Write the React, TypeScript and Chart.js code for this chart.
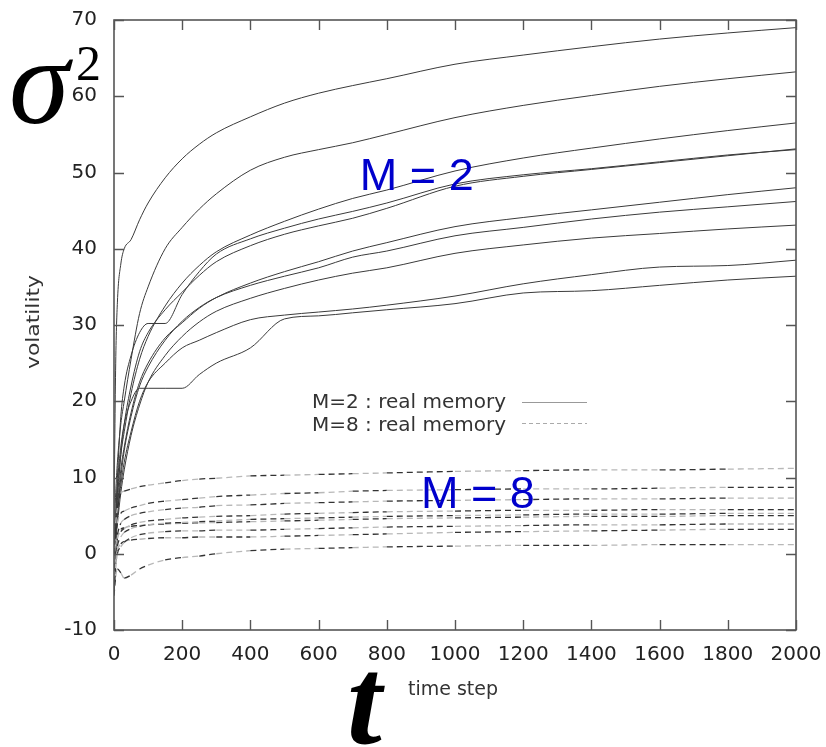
import React, { useEffect, useRef } from 'react';
import { Chart, registerables } from 'chart.js';

Chart.register(...registerables);

// ---- data -----------------------------------------------------------------
const timeSteps = [0, 5, 10, 20, 30, 50, 75, 100, 150, 200, 250, 300, 400, 500, 600, 700, 800, 1000, 1200, 1400, 1600, 1800, 2000];

// M = 2 (solid lines)
const m2A = [5, 25, 33, 38, 40, 41.2, 43.8, 46, 49.3, 51.8, 53.7, 55.2, 57.3, 59.1, 60.4, 61.4, 62.3, 64.2, 65.4, 66.5, 67.5, 68.3, 69];
const m2B = [2, 8, 12, 17, 20, 25.5, 31.5, 35, 40, 42.8, 45.2, 47.2, 50.3, 52, 53, 53.9, 55, 57.2, 58.8, 60.1, 61.3, 62.3, 63.2];
const m2C = [-2, 4, 8, 13, 16, 21, 25.5, 28.5, 32.5, 35.5, 37.8, 39.6, 41.8, 43.6, 45.2, 46.6, 47.7, 50.2, 51.9, 53.2, 54.4, 55.5, 56.5];
const m2D1 = [0, 5, 10, 18, 22, 26, 29, 30.2, 30.2, 34, 37, 39.3, 41.3, 42.7, 43.9, 44.9, 46, 48.5, 49.7, 50.5, 51.4, 52.3, 53];
const m2D2 = [-4, 3, 7, 13, 17, 22, 26.5, 29, 32, 34.3, 36.5, 38.3, 40.4, 41.9, 43, 44, 45.3, 48.2, 49.5, 50.4, 51.3, 52.2, 53.1];
const m2E = [-1, 3, 6, 11, 14, 18.5, 22.5, 25, 28.3, 30.3, 32.2, 33.6, 35.5, 37, 38.3, 39.7, 40.8, 42.9, 44.1, 45.1, 46.1, 47.1, 48];
const m2F = [-5, 2, 5, 10, 13.5, 18, 22, 24.5, 28, 30.5, 32.3, 33.6, 35.2, 36.4, 37.5, 38.9, 39.7, 41.7, 42.8, 43.9, 44.8, 45.5, 46.2];
const m2G = [1, 2, 4, 8, 11, 15.5, 19.5, 22.5, 26, 28.5, 30.4, 31.8, 33.5, 34.8, 35.9, 36.8, 37.5, 39.4, 40.5, 41.4, 42, 42.6, 43.1];
const m2H = [-3, 2, 5, 9, 12, 16, 20, 22.5, 25, 27, 28, 29, 30.7, 31.3, 31.7, 32.1, 32.6, 33.8, 35.4, 36.6, 37.6, 37.8, 38.5];
const m2I = [3, 4, 9, 14, 17, 20, 21.7, 21.7, 21.7, 21.7, 23.5, 25, 27, 30.8, 31.2, 31.6, 32, 32.8, 34.2, 34.5, 35.2, 35.9, 36.4];

// M = 8 (dashed lines)
const m8P1 = [0, 4, 6, 7.9, 8.2, 8.5, 8.8, 9.0, 9.3, 9.6, 9.8, 9.9, 10.2, 10.3, 10.4, 10.5, 10.6, 10.8, 10.9, 11.0, 11.0, 11.1, 11.2];
const m8P2 = [-1, 2, 4, 5.3, 5.6, 6.0, 6.3, 6.6, 6.9, 7.1, 7.3, 7.5, 7.7, 7.9, 8.0, 8.2, 8.3, 8.4, 8.5, 8.5, 8.6, 8.7, 8.7];
const m8P3 = [-2, 1, 2.5, 4.0, 4.5, 5.0, 5.3, 5.5, 5.8, 6.0, 6.1, 6.3, 6.4, 6.6, 6.7, 6.8, 6.9, 7.0, 7.1, 7.2, 7.2, 7.3, 7.3];
const m8P4 = [-3, 0, 2, 2.9, 3.3, 3.8, 4.1, 4.3, 4.5, 4.7, 4.8, 4.9, 5.0, 5.2, 5.3, 5.4, 5.5, 5.6, 5.7, 5.7, 5.8, 5.8, 5.8];
const m8P5 = [-4, -1, 1, 2.2, 2.8, 3.3, 3.6, 3.8, 4.0, 4.1, 4.2, 4.3, 4.5, 4.6, 4.7, 4.8, 4.9, 5.0, 5.1, 5.2, 5.2, 5.3, 5.3];
const m8P6 = [-2, 0.5, 2, 3.2, 3.4, 3.6, 3.7, 3.8, 3.9, 4.0, 4.05, 4.1, 4.2, 4.3, 4.4, 4.5, 4.6, 4.7, 4.8, 4.9, 4.9, 5.0, 5.0];
const m8P7 = [-5, -2, 0, 0.9, 1.5, 2.1, 2.5, 2.7, 2.9, 3.0, 3.0, 3.1, 3.1, 3.2, 3.3, 3.4, 3.5, 3.6, 3.7, 3.8, 3.8, 3.9, 3.9];
const m8P8 = [-3, -1, 0.5, 1.3, 1.6, 1.8, 1.9, 2.0, 2.1, 2.1, 2.2, 2.2, 2.2, 2.3, 2.4, 2.5, 2.6, 2.8, 2.9, 3.0, 3.1, 3.2, 3.2];
const m8P9 = [-5.5, -3, -2, -2.5, -3.2, -2.8, -2.0, -1.5, -0.8, -0.5, -0.3, 0.0, 0.4, 0.6, 0.7, 0.8, 0.9, 1.0, 1.1, 1.1, 1.2, 1.2, 1.2];

const m2Series = [m2A, m2B, m2C, m2D1, m2D2, m2E, m2F, m2G, m2H, m2I];
const m8Series = [m8P1, m8P2, m8P3, m8P4, m8P5, m8P6, m8P7, m8P8, m8P9];

const xTicks = [0, 200, 400, 600, 800, 1000, 1200, 1400, 1600, 1800, 2000];
const yTicks = [-10, 0, 10, 20, 30, 40, 50, 60, 70];

const legendLabels = ['M=2 : real memory', 'M=8 : real memory'];
const groupLabels = ['M = 2', 'M = 8'];
const groupLabelAnchors = [[721, 47.7], [900, 6.0]]; // data coordinates (t, value)
const xTitle = 'time step';
const yTitle = 'volatility';

// ---- chart -----------------------------------------------------------------
const toPoints = (vals: number[]) => vals.map((v, i) => ({ x: timeSteps[i], y: v }));

const decorPlugin = {
  id: 'decor',
  afterDraw(chart: any) {
    const { ctx, chartArea: a, scales } = chart;
    const xs = scales.x;
    const ys = scales.y;
    ctx.save();

    // frame
    ctx.strokeStyle = '#555';
    ctx.lineWidth = 1.6;
    ctx.strokeRect(a.left, a.top, a.right - a.left, a.bottom - a.top);

    // inward ticks on four sides
    ctx.lineWidth = 1.4;
    ctx.beginPath();
    xTicks.forEach((v) => {
      const px = Math.round(xs.getPixelForValue(v)) + 0.5;
      ctx.moveTo(px, a.bottom);
      ctx.lineTo(px, a.bottom - 10);
      ctx.moveTo(px, a.top);
      ctx.lineTo(px, a.top + 10);
    });
    yTicks.forEach((v) => {
      const py = Math.round(ys.getPixelForValue(v)) + 0.5;
      ctx.moveTo(a.left, py);
      ctx.lineTo(a.left + 10, py);
      ctx.moveTo(a.right, py);
      ctx.lineTo(a.right - 10, py);
    });
    ctx.stroke();

    // legend
    ctx.font = '20px "DejaVu Sans"';
    ctx.fillStyle = '#333';
    ctx.textAlign = 'right';
    ctx.textBaseline = 'alphabetic';
    const lx = a.left + 392;
    const ly = a.top + 388;
    ctx.fillText(legendLabels[0], lx, ly);
    ctx.fillText(legendLabels[1], lx, ly + 23);
    ctx.lineWidth = 1;
    ctx.strokeStyle = '#999';
    ctx.beginPath();
    ctx.moveTo(a.left + 408, ly - 5.5);
    ctx.lineTo(a.left + 473, ly - 5.5);
    ctx.stroke();
    ctx.strokeStyle = '#aaa';
    ctx.setLineDash([4, 3]);
    ctx.beginPath();
    ctx.moveTo(a.left + 408, ly + 15.5);
    ctx.lineTo(a.left + 473, ly + 15.5);
    ctx.stroke();
    ctx.setLineDash([]);

    // group labels
    ctx.font = '45px "Liberation Sans"';
    ctx.fillStyle = '#0000cc';
    ctx.textAlign = 'left';
    groupLabels.forEach((t, i) => {
      const [gx, gy] = groupLabelAnchors[i];
      ctx.fillText(t, xs.getPixelForValue(gx), ys.getPixelForValue(gy));
    });

    // axis titles (small)
    ctx.fillStyle = '#333';
    ctx.font = '19px "DejaVu Sans"';
    ctx.fillText(xTitle, 408, 695);

    ctx.save();
    ctx.translate(35, 322);
    ctx.rotate(-Math.PI / 2);
    ctx.font = '17px "DejaVu Sans"';
    const w = ctx.measureText(yTitle).width;
    ctx.scale(94 / w, 1);
    ctx.textAlign = 'center';
    ctx.textBaseline = 'middle';
    ctx.fillText(yTitle, 0, 0);
    ctx.restore();

    // big symbols
    ctx.fillStyle = '#000';
    ctx.textAlign = 'left';
    ctx.textBaseline = 'alphabetic';
    ctx.font = 'italic 122px "Liberation Serif"';
    ctx.fillText('\u03C3', 9, 123);
    ctx.font = '50px "Liberation Serif"';
    ctx.fillText('2', 76, 80);
    ctx.font = 'italic bold 125px "Liberation Serif"';
    ctx.fillText('t', 347, 743);

    ctx.restore();
  },
};

export default function App() {
  const ref = useRef<HTMLCanvasElement | null>(null);

  useEffect(() => {
    document.body.style.margin = '0';
    const canvas = ref.current;
    if (!canvas) return;

    const datasets: any[] = [];
    m8Series.forEach((vals, i) => {
      datasets.push({
        label: 'M=8 #' + (i + 1),
        data: toPoints(vals),
        borderWidth: 1.3,
        borderColor: '#555',
        borderDash: [6, 4],
        pointRadius: 0,
        cubicInterpolationMode: 'monotone',
        segment: {
          borderColor: (c: any) => ((c.p0DataIndex + i) % 2 === 0 ? '#333' : '#b8b8b8'),
        },
      });
    });
    m2Series.forEach((vals, i) => {
      datasets.push({
        label: 'M=2 #' + (i + 1),
        data: toPoints(vals),
        borderWidth: 1,
        borderColor: '#3a3a3a',
        pointRadius: 0,
        cubicInterpolationMode: 'monotone',
      });
    });

    const zeroPad = (s: any) => {
      s.paddingTop = 0;
      s.paddingBottom = 0;
      s.paddingLeft = 0;
      s.paddingRight = 0;
    };

    const tickFont = { family: '"DejaVu Sans"', size: 20 };
    const chart = new Chart(canvas, {
      type: 'line',
      data: { datasets },
      options: {
        animation: false,
        responsive: false,
        devicePixelRatio: 1,
        layout: { padding: { left: 0, top: 20, right: 30, bottom: 0 } },
        plugins: { legend: { display: false }, tooltip: { enabled: false } },
        events: [],
        scales: {
          x: {
            type: 'linear',
            min: 0,
            max: 2000,
            afterBuildTicks: (s: any) => {
              s.ticks = xTicks.map((v) => ({ value: v }));
            },
            afterFit: (s: any) => {
              s.height = 117;
              zeroPad(s);
            },
            grid: { display: false, drawTicks: false },
            border: { display: false },
            ticks: {
              font: tickFont,
              color: '#222',
              padding: 13,
              autoSkip: false,
              maxRotation: 0,
              callback: (v: any) => String(v),
            },
          },
          y: {
            type: 'linear',
            min: -10,
            max: 70,
            afterBuildTicks: (s: any) => {
              s.ticks = yTicks.map((v) => ({ value: v }));
            },
            afterFit: (s: any) => {
              s.width = 114;
              zeroPad(s);
            },
            grid: { display: false, drawTicks: false },
            border: { display: false },
            ticks: { font: tickFont, color: '#222', padding: 17, callback: (v: any) => String(v) },
          },
        },
      },
      plugins: [decorPlugin],
    });

    return () => chart.destroy();
  }, []);

  return (
    <div style={{ position: 'absolute', left: 0, top: 0, width: 826, height: 747, background: '#fff' }}>
      <canvas ref={ref} width={826} height={747} />
    </div>
  );
}
